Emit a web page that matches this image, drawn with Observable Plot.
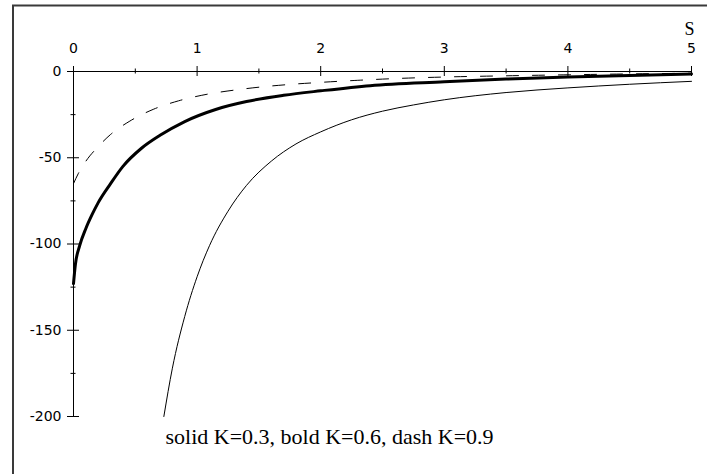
<!DOCTYPE html>
<html>
<head>
<meta charset="utf-8">
<script src="https://cdn.jsdelivr.net/npm/d3@7"></script>
<script src="https://cdn.jsdelivr.net/npm/@observablehq/plot@0.6"></script>
<style>
  html, body { margin: 0; padding: 0; background: white; overflow: hidden; }
</style>
</head>
<body>
<div id="chart"></div>
<script>
// ---- data ----
const solidS = [0.731, 0.8, 0.9, 1.0, 1.1, 1.25, 1.4, 1.6, 1.8, 2.0, 2.25, 2.5, 2.75, 3.0, 3.5, 4.0, 4.5, 5.0];
const solidV = [-200, -172, -142, -119, -101, -81, -66, -52, -42, -35, -28, -23, -19.4, -16.4, -12.2, -9.5, -7.4, -5.7];

const boldS = [0, 0.015, 0.05, 0.1, 0.15, 0.2, 0.3, 0.4, 0.55, 0.7, 0.9, 1.15, 1.4, 1.7, 2.0, 2.4, 3.0, 3.5, 4.0, 4.5, 5.0];
const boldV = [-123, -112, -101, -91, -83, -76, -65, -55, -44.5, -37, -29, -22, -17.4, -13.8, -11.2, -8.2, -6.0, -4.4, -3.2, -2.3, -1.5];

const dashS = [0.0, 0.04, 0.1, 0.2, 0.3, 0.45, 0.65, 0.85, 1.08, 1.3, 1.5, 1.75, 2.0, 2.3, 2.6, 3.0, 3.5, 4.0, 4.5, 5.0];
const dashV = [-65, -59, -52, -43.5, -36.5, -29, -21.8, -17, -13.2, -10.8, -9.1, -7.5, -6.3, -5.1, -4.1, -3.2, -2.5, -1.9, -1.4, -1.0];

const xMajor = [0, 1, 2, 3, 4, 5];
const xMinor = [0.5, 1.5, 2.5, 3.5, 4.5];
const yMajor = [0, -50, -100, -150, -200];
const yMinor = [-25, -75, -125, -175];
const xLabel = "S";
const caption = "solid K=0.3, bold K=0.6, dash K=0.9";

const toRows = (S, V) => S.map((s, i) => ({S: s, V: V[i]}));
const solid = toRows(solidS, solidV);
const bold = toRows(boldS, boldV);
const dash = toRows(dashS, dashV);

const tickFont = "DejaVu Sans";
const serif = "Liberation Serif";

const chart = Plot.plot({
  width: 707,
  height: 474,
  marginLeft: 73,
  marginRight: 16,
  marginTop: 71,
  marginBottom: 58,
  style: {background: "white", overflow: "hidden"},
  x: {domain: [0, 5], axis: null},
  y: {domain: [-200, 0], axis: null},
  marks: [
    Plot.frame({stroke: "#3a3a3a", strokeWidth: 2, insetLeft: -60.5, insetTop: -66, insetRight: -40, insetBottom: -80}),
    // axes lines
    Plot.ruleY([0], {x1: 0, x2: 5, stroke: "black", strokeWidth: 1}),
    Plot.ruleX([0], {y1: -200, y2: 0, stroke: "black", strokeWidth: 1}),
    // ticks
    Plot.ruleX(xMajor, {x: d => d, y1: 0, y2: 0, insetTop: -5, insetBottom: -5, stroke: "black"}),
    Plot.ruleX(xMinor, {x: d => d, y1: 0, y2: 0, insetTop: -2.5, insetBottom: -2.5, stroke: "black"}),
    Plot.ruleY(yMajor, {y: d => d, x1: 0, x2: 0, insetLeft: -6, insetRight: -6, stroke: "black"}),
    Plot.ruleY(yMinor, {y: d => d, x1: 0, x2: 0, insetLeft: -2.5, insetRight: -2.5, stroke: "black"}),
    // tick labels
    Plot.text(xMajor, {x: d => d, y: 0, dy: -23, text: d => String(d), fontFamily: tickFont, fontSize: 14, fill: "black"}),
    Plot.text(yMajor, {x: 0, y: d => d, dx: -12, text: d => String(d), textAnchor: "end", fontFamily: tickFont, fontSize: 14, fill: "black"}),
    Plot.text([xLabel], {x: 5, y: 0, dx: -2, dy: -42, text: d => d, fontFamily: serif, fontSize: 18, fill: "black"}),
    // curves
    Plot.line(solid, {x: "S", y: "V", curve: "monotone-x", stroke: "black", strokeWidth: 1}),
    Plot.line(bold, {x: "S", y: "V", curve: "monotone-x", stroke: "black", strokeWidth: 3}),
    Plot.line(dash, {x: "S", y: "V", curve: "monotone-x", stroke: "black", strokeWidth: 1, strokeDasharray: "12,14"}),
    // caption
    Plot.text([caption], {frameAnchor: "bottom", dx: -53, dy: 27, text: d => d, fontFamily: serif, fontSize: 22, fill: "black"})
  ]
});
document.getElementById("chart").appendChild(chart);
</script>
</body>
</html>
